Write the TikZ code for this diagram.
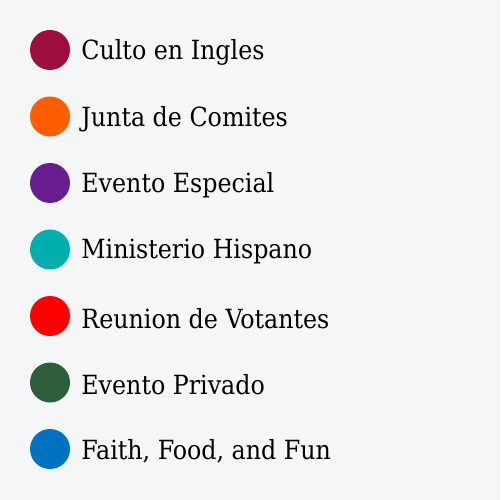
\documentclass[tikz,border=0pt]{standalone}
\usepackage{fontspec}
\setmainfont{DejaVu Serif Condensed}
\usepackage{xcolor}
\usetikzlibrary{positioning}

\definecolor{bgcol}{HTML}{F5F6F8}
\definecolor{ingles}{HTML}{9B0E3E}
\definecolor{comites}{HTML}{FF5E00}
\definecolor{especial}{HTML}{681E8E}
\definecolor{hispano}{HTML}{00AEAE}
\definecolor{votantes}{HTML}{FF0000}
\definecolor{privado}{HTML}{2F5E3A}
\definecolor{fff}{HTML}{0070C0}

\tikzset{
  dot/.style={circle,minimum size=40bp,inner sep=0pt},
  lbl/.style={right=11bp of #1,yshift=-2.5bp,inner sep=0pt,font=\fontsize{26.5}{29}\selectfont}
}

\begin{document}
\begin{tikzpicture}[x=1bp,y=-1bp]

\fill[bgcol] (0,0) rectangle (500,500);
\useasboundingbox (0,0) rectangle (500,500);

% legend entries:
\node[dot,fill=ingles] (d1) at (50,50) {};
\node[lbl=d1] (t1) {Culto en Ingles};

\node[dot,fill=comites] (d2) at (50,116.5) {};
\node[lbl=d2] (t2) {Junta de Comites};

\node[dot,fill=especial] (d3) at (50,183) {};
\node[lbl=d3] (t3) {Evento Especial};

\node[dot,fill=hispano] (d4) at (50,249.5) {};
\node[lbl=d4] (t4) {Ministerio Hispano};

\node[dot,fill=votantes] (d5) at (50,316) {};
\node[lbl=d5] (t5) {Reunion de Votantes};

\node[dot,fill=privado] (d6) at (50,382.5) {};
\node[lbl=d6] (t6) {Evento Privado};

\node[dot,fill=fff] (d7) at (50,449) {};
\node[lbl=d7] (t7) {Faith, Food, and Fun};

\end{tikzpicture}
\end{document}
